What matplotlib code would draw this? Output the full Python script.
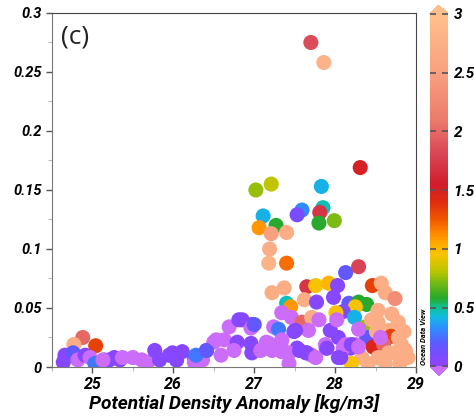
import numpy as np
import matplotlib
matplotlib.use("Agg")
import matplotlib.pyplot as plt
from matplotlib.colors import LinearSegmentedColormap

# sample values: potential density anomaly, concentration, colour variable
sigma = [
    27.70, 27.86, 28.31, 27.02, 27.21, 27.83, 27.59, 27.53, 27.85, 27.81,
    27.11, 27.27, 27.80, 27.99, 27.06, 27.21, 27.40, 27.19, 27.18, 27.40,
    28.13, 28.29,
    27.37, 27.22, 27.65, 27.76, 27.92, 28.03, 28.46, 28.57, 28.62, 28.74,
    27.40, 27.45, 27.62, 27.77, 27.98, 28.17, 28.29, 28.39, 28.25, 28.10,
    28.01, 28.24, 28.37, 28.39, 28.29, 28.53, 28.53, 28.78, 28.51, 28.66,
    28.69, 28.47, 28.60, 28.82, 28.78, 28.87, 28.74, 28.53, 28.62, 28.33,
    28.41, 28.20, 28.56,
    27.34, 27.46, 27.59, 27.71, 27.80, 27.24, 27.30, 26.97, 26.85, 26.69,
    26.96, 27.49, 27.67, 27.94, 28.04, 28.02, 27.51, 28.19, 28.25, 28.10,
    27.89, 27.88, 28.07, 27.34, 27.53, 27.64, 27.71, 27.43, 27.34,
    25.99, 26.11, 26.26, 26.41, 26.50, 26.63, 27.00, 26.79, 26.75, 26.96,
    26.97, 27.18, 27.08, 27.27, 26.59, 26.26, 26.04, 26.36,
    27.15, 27.22, 27.33, 27.43, 27.56, 27.65, 27.76, 27.90, 28.04, 28.13,
    28.20, 28.29,
    24.88, 24.77, 25.04, 24.66, 24.76, 24.82, 24.64, 24.91, 24.97, 25.03,
    25.15, 25.27, 25.34, 25.50, 25.61, 25.68, 25.77, 25.83, 25.95, 26.04,
    25.21, 25.13, 25.37, 26.28, 26.41, 26.53, 26.81,
    28.70, 28.85, 28.90, 28.80, 28.66, 28.45,
]
conc = [
    0.275, 0.258, 0.169, 0.150, 0.155, 0.153, 0.133, 0.129, 0.135, 0.131,
    0.128, 0.120, 0.122, 0.124, 0.118, 0.113, 0.114, 0.100, 0.088, 0.088,
    0.080, 0.085,
    0.067, 0.063, 0.068, 0.069, 0.071, 0.069, 0.069, 0.071, 0.063, 0.058,
    0.054, 0.051, 0.057, 0.055, 0.059, 0.054, 0.055, 0.053, 0.051, 0.047,
    0.046, 0.042, 0.034, 0.025, 0.032, 0.048, 0.038, 0.038, 0.030, 0.031,
    0.026, 0.017, 0.019, 0.019, 0.025, 0.014, 0.012, 0.008, 0.003, 0.008,
    0.003, 0.003, 0.025,
    0.046, 0.042, 0.038, 0.042, 0.040, 0.034, 0.032, 0.036, 0.040, 0.034,
    0.033, 0.030, 0.031, 0.031, 0.025, 0.040, 0.031, 0.016, 0.019, 0.016,
    0.016, 0.019, 0.008, 0.023, 0.016, 0.012, 0.010, 0.012, 0.013,
    0.012, 0.013, 0.008, 0.014, 0.021, 0.023, 0.036, 0.021, 0.014, 0.020,
    0.012, 0.020, 0.014, 0.016, 0.010, 0.004, 0.006, 0.006,
    0.021, 0.014, 0.020, 0.003, 0.014, 0.012, 0.008, 0.016, 0.008, 0.019,
    0.019, 0.017,
    0.025, 0.019, 0.018, 0.010, 0.012, 0.006, 0.004, 0.010, 0.008, 0.003,
    0.006, 0.008, 0.006, 0.008, 0.006, 0.004, 0.014, 0.006, 0.010, 0.006,
    0.006, 0.006, 0.008, 0.010, 0.014, 0.023, 0.040,
    0.045, 0.030, 0.008, 0.003, 0.012, 0.040,
]
cval = [
    1.85, 2.80, 1.50, 0.75, 0.83, 0.40, 0.32, 0.10, 0.46, 1.70,
    0.40, 0.58, 0.58, 0.72, 1.10, 2.50, 2.70, 2.70, 2.80, 1.20,
    0.18, 1.80,
    2.70, 2.70, 1.70, 0.95, 1.00, 0.05, 1.33, 2.70, 2.70, 2.30,
    0.46, 1.10, 2.70, 0.05, 0.05, 0.18, 0.58, 0.58, 0.95, 0.08,
    0.95, 0.40, 0.75, 0.18, -0.10, 2.70, 2.70, 2.70, 2.70, 2.70,
    1.33, 1.45, 2.00, 2.70, 2.70, 2.70, 2.70, 2.70, 2.70, 2.70,
    2.70, 0.95, -0.10,
    -0.10, -0.10, 2.00, 2.70, -0.10, -0.10, 0.28, 0.18, 0.05, -0.10,
    -0.10, 0.05, -0.10, 0.05, 0.05, -0.10, 0.05, 0.05, -0.10, -0.10,
    0.05, -0.10, 0.05, -0.10, 0.05, 0.05, -0.10, -0.10, -0.10,
    0.05, 0.05, 0.18, 0.05, -0.10, -0.10, 0.18, 0.05, -0.10, 0.05,
    0.05, -0.10, -0.10, -0.10, -0.10, -0.10, 0.05, -0.10,
    -0.10, -0.10, -0.10, -0.10, 0.05, 0.05, -0.10, 0.05, 0.05, -0.10,
    0.05, -0.10,
    2.00, 2.70, 1.33, 0.05, 0.18, -0.10, 0.05, 0.05, -0.10, 0.28,
    -0.10, 0.05, 0.05, -0.10, -0.10, -0.10, 0.05, 0.05, 0.05, 0.05,
    0.05, -0.10, -0.10, 0.28, 0.18, -0.10, 0.05,
    2.70, 2.70, 2.70, 2.70, 2.70, 2.70,
]

cbar_ticks = [0, 0.5, 1, 1.5, 2, 2.5, 3]
cbar_labels = ["0", "0.5", "1", "1.5", "2", "2.5", "3"]

# ODV-style rainbow
stops = [
    (0.00, '#9440ff'), (0.20, '#5a5cff'), (0.33, '#2c90ff'), (0.42, '#10bce0'),
    (0.50, '#10c090'), (0.58, '#28a828'), (0.70, '#70b818'), (0.80, '#b8c400'),
    (0.95, '#f8c400'), (1.05, '#ffa800'), (1.15, '#ff8000'), (1.25, '#f05800'),
    (1.40, '#e02c10'), (1.55, '#d01c2c'), (1.80, '#d84454'), (2.10, '#ec7a6c'),
    (2.50, '#f8a080'), (3.00, '#ffbf8c'),
]
odv = LinearSegmentedColormap.from_list('odv', [(v / 3.0, c) for v, c in stops])
odv.set_under('#cc6cfa')
odv.set_over('#ffbf8c')

plt.rcParams['font.family'] = ['Roboto', 'DejaVu Sans']
bi = dict(fontweight='bold', fontstyle='italic')

fig = plt.figure(figsize=(4.74, 4.17), dpi=100)
ax = fig.add_axes([0.1097, 0.1199, 0.768, 0.849])

sc = ax.scatter(sigma, conc, c=cval, cmap=odv, vmin=0, vmax=3, s=118,
                edgecolors='none', zorder=3)

ax.set_xlim(24.5, 29)
ax.set_ylim(0, 0.3)
ax.set_xticks([25, 26, 27, 28, 29])
ax.set_yticks([0, 0.05, 0.1, 0.15, 0.2, 0.25, 0.3])
ax.set_yticklabels(["0", "0.05", "0.1", "0.15", "0.2", "0.25", "0.3"])
ax.set_xticks(np.arange(24.5, 29.01, 0.5), minor=True)
ax.set_yticks(np.arange(0, 0.301, 0.025), minor=True)
ax.tick_params(which='major', length=4, width=1, color='#555')
ax.tick_params(which='minor', length=3, width=0.8, color='#bbb')
for lab in ax.get_xticklabels():
    lab.set(fontsize=11.5, **bi)
for lab in ax.get_yticklabels():
    lab.set(fontsize=10.5, **bi)
for side in ['left', 'bottom']:
    ax.spines[side].set_color('#777')
for side in ['top', 'right']:
    ax.spines[side].set_color('#444')

ax.set_xlabel('Potential Density Anomaly [kg/m3]', fontsize=13.8,
              labelpad=1, **bi)
ax.text(0.025, 0.968, '(c)', transform=ax.transAxes, fontsize=19,
        va='top', ha='left', color='#222', family='Open Sans')

cax = fig.add_axes([0.907, 0.100, 0.038, 0.888])
cbar = fig.colorbar(sc, cax=cax, extend='both', extendfrac=0.025,
                    ticks=cbar_ticks)
cbar.outline.set_visible(False)
cbar.ax.set_yticklabels(cbar_labels)
cbar.ax.tick_params(direction='in', length=4, width=1.2, color='#555',
                    left=True, right=True, pad=4)
for lab in cbar.ax.get_yticklabels():
    lab.set(fontsize=11, **bi)

fig.text(0.893, 0.125, 'Ocean Data View', rotation=90, fontsize=5.5,
         ha='center', va='bottom', **bi)

fig.savefig('out.png', dpi=100)
